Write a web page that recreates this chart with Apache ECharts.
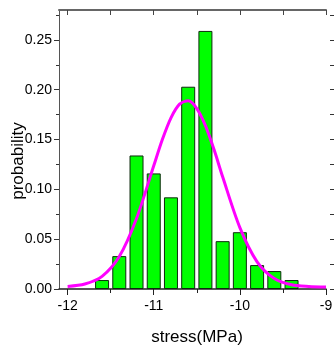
<!DOCTYPE html>
<html>
<head>
<meta charset="utf-8">
<script src="https://cdn.jsdelivr.net/npm/echarts@6/dist/echarts.min.js"></script>
<style>
  html, body { margin: 0; padding: 0; background: #fff; }
  #chart { width: 334px; height: 350px; }
</style>
</head>
<body>
<div id="chart"></div>
<script>
// histogram bins (centre of each bin, MPa) and their probability
const binCenters = [-11.6, -11.4, -11.2, -11.0, -10.8, -10.6, -10.4, -10.2, -10.0, -9.8, -9.6, -9.4]
const probability = [0.009, 0.033, 0.134, 0.116, 0.092, 0.203, 0.259, 0.048, 0.057, 0.024, 0.018, 0.009]

// fitted curve
const fitX = [-12, -11.8, -11.6, -11.4, -11.2, -11.0, -10.9, -10.8, -10.7, -10.6, -10.5, -10.4, -10.3, -10.2, -10.0, -9.8, -9.6, -9.4, -9.2, -9.0]
const fitY = [0.0026, 0.005, 0.0127, 0.0326, 0.0708, 0.1237, 0.150, 0.1718, 0.1855, 0.1888, 0.1811, 0.164, 0.1399, 0.1126, 0.0616, 0.0273, 0.0105, 0.0042, 0.0025, 0.002]

const xMajorTicks = [-12, -11, -10, -9]
const xMinorTicks = [-11.5, -10.5, -9.5]
const xTopTicks = [-12, -11.5, -11, -10.5, -10, -9.5, -9]
const yMajorTicks = [0, 0.05, 0.10, 0.15, 0.20, 0.25]
const yMinorTicks = [0.025, 0.075, 0.125, 0.175, 0.225, 0.275]
const yRightTicks = [0, 0.025, 0.05, 0.075, 0.10, 0.125, 0.15, 0.175, 0.20, 0.225, 0.25, 0.275]

const X_MIN = -12.1, X_MAX = -9
const Y_MIN = 0, Y_MAX = 0.28
const sans = "'Liberation Sans', Arial, sans-serif"

const chart = echarts.init(document.getElementById('chart'))

const hidden = { show: false }
const box = { left: 59, right: 8, top: 10, bottom: 61, outerBoundsMode: 'none', containLabel: false }

chart.setOption({
  animation: false,
  // grid 1 sits exactly on grid 0 and only carries the minor ticks
  grid: [box, box],
  xAxis: [
    {
      gridIndex: 0, type: 'value', position: 'bottom', min: X_MIN, max: X_MAX,
      splitLine: hidden,
      axisLine: { show: true, onZero: false, lineStyle: { color: '#222', width: 1.5 } },
      axisTick: { show: true, customValues: xMajorTicks, length: 6, lineStyle: { color: '#222' } },
      axisLabel: {
        customValues: xMajorTicks, margin: 10, color: '#000',
        fontFamily: sans, fontSize: 14
      },
      name: 'stress(MPa)', nameLocation: 'middle', nameGap: 40, nameMoveOverlap: false,
      nameTextStyle: { fontFamily: sans, fontSize: 17, color: '#000', padding: [0, 0, 0, 9] }
    },
    {
      gridIndex: 0, type: 'value', position: 'top', min: X_MIN, max: X_MAX,
      splitLine: hidden, axisLabel: hidden,
      axisLine: { show: true, onZero: false, lineStyle: { color: '#666', width: 2 } },
      axisTick: { show: true, customValues: xTopTicks, inside: true, length: 5, lineStyle: { color: '#444' } }
    },
    {
      gridIndex: 1, type: 'value', position: 'bottom', min: X_MIN, max: X_MAX,
      splitLine: hidden, axisLine: hidden, axisLabel: hidden,
      axisTick: { show: true, customValues: xMinorTicks, length: 4, lineStyle: { color: '#222' } }
    }
  ],
  yAxis: [
    {
      gridIndex: 0, type: 'value', position: 'left', min: Y_MIN, max: Y_MAX,
      splitLine: hidden,
      axisLine: { show: true, onZero: false, lineStyle: { color: '#555', width: 1 } },
      axisTick: { show: true, customValues: yMajorTicks, length: 5, lineStyle: { color: '#333' } },
      axisLabel: {
        customValues: yMajorTicks, margin: 7, color: '#000',
        fontFamily: sans, fontSize: 14,
        formatter: v => v.toFixed(2)
      },
      name: 'probability', nameLocation: 'middle', nameGap: 32, nameMoveOverlap: false,
      nameTextStyle: { fontFamily: sans, fontSize: 17, color: '#000', padding: [0, 23, 0, 0] }
    },
    {
      gridIndex: 0, type: 'value', position: 'right', offset: 4, min: Y_MIN, max: Y_MAX,
      splitLine: hidden, axisLine: hidden, axisLabel: hidden,
      axisTick: { show: true, customValues: yRightTicks, length: 4, lineStyle: { color: '#333' } }
    },
    {
      gridIndex: 1, type: 'value', position: 'left', min: Y_MIN, max: Y_MAX,
      splitLine: hidden, axisLine: hidden, axisLabel: hidden,
      axisTick: { show: true, customValues: yMinorTicks, length: 3, lineStyle: { color: '#333' } }
    }
  ],
  series: [
    {
      type: 'bar',
      xAxisIndex: 0, yAxisIndex: 0,
      barWidth: 14,
      data: binCenters.map((x, i) => [x, probability[i]]),
      itemStyle: { color: '#00ff00', borderColor: '#0d2a0d', borderWidth: 1 }
    },
    {
      type: 'line',
      xAxisIndex: 0, yAxisIndex: 0,
      smooth: 0.3,
      showSymbol: false,
      data: fitX.map((x, i) => [x, fitY[i]]),
      lineStyle: { color: '#ff00ff', width: 3 },
      z: 3
    }
  ]
})
</script>
</body>
</html>
